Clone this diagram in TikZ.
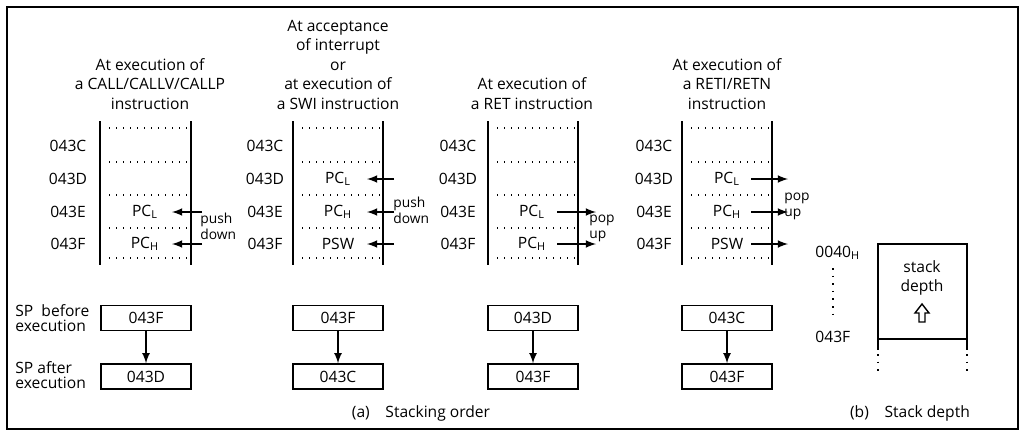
\documentclass[tikz,border=0pt]{standalone}
\usepackage{fontspec}
\setmainfont{Open Sans}
\usetikzlibrary{positioning,calc}
\tikzset{standard edge/.style={line width=0.75pt,-latex},
 stack wall/.style={line width=0.9pt},
 cell sep/.style={line width=0.7pt,dash pattern=on 0.7pt off 2.8pt},
 small note/.style={font=\fontsize{6.9}{8}\selectfont,align=left,inner sep=0pt,anchor=west}}

\begin{document}
\begin{tikzpicture}[x=0.5pt,y=-0.5pt,font=\fontsize{7.8}{9.75}\selectfont,
 spbox/.style={draw,line width=0.8pt,minimum width=45pt,minimum height=12.5pt,inner sep=0pt},
 head/.style={align=center,anchor=south,inner sep=0pt},
 sp label/.style={align=left,anchor=west,inner sep=0pt,font=\fontsize{7.8}{7.6}\selectfont}]
\useasboundingbox (0,0) rectangle (1028,435);
\draw[line width=0.6pt] (7,7) rectangle (1018,429);

% the four stacks
\foreach \l/\r in {100/191,293/383,488/578,682/772}{
 \draw[stack wall] (\l,121) -- (\l,265);
 \draw[stack wall] (\r,121) -- (\r,265);
 \foreach \y in {128,162,195,228,258}
  \draw[cell sep] (\l+9,\y) -- (\r-3,\y);
}
\foreach \x/\n in {68/1,265/2,458/3,654/4}{
 \node (ad\n C) at (\x,146) {043C};
 \node (ad\n D) at (\x,179) {043D};
 \node (ad\n E) at (\x,212) {043E};
 \node (ad\n F) at (\x,244) {043F};
}

\node[head] (h1) at (150,110) {At execution of\\a CALL/CALLV/CALLP\\instruction};
\node[head] (h2) at (338,110) {At acceptance\\of interrupt\\or\\at execution of\\a SWI instruction};
\node[head] (h3) at (532,110) {At execution of\\a RET instruction};
\node[head] (h4) at (727,110) {At execution of\\a RETI/RETN\\instruction};

% contents
\node (c1E) at (145,212) {PC\textsubscript{L}};
\node (c1F) at (145,244) {PC\textsubscript{H}};
\node (c2D) at (338,179) {PC\textsubscript{L}};
\node (c2E) at (338,212) {PC\textsubscript{H}};
\node (c2F) at (338,244) {PSW};
\node (c3E) at (532,212) {PC\textsubscript{L}};
\node (c3F) at (532,244) {PC\textsubscript{H}};
\node (c4D) at (727,179) {PC\textsubscript{L}};
\node (c4E) at (727,212) {PC\textsubscript{H}};
\node (c4F) at (727,244) {PSW};

% push down / pop up
\coordinate (in1) at (202,0); \coordinate (tip1) at (172,0);
\coordinate (in2) at (394,0); \coordinate (tip2) at (367,0);
\coordinate (out3) at (557,0); \coordinate (tip3) at (596,0);
\coordinate (out4) at (751,0); \coordinate (tip4) at (788,0);
\foreach \c in {c1E,c1F}
 \draw[standard edge] (in1 |- \c) -- (tip1 |- \c);
\foreach \c in {c2D,c2E,c2F}
 \draw[standard edge] (in2 |- \c) -- (tip2 |- \c);
\foreach \c in {c3E,c3F}
 \draw[standard edge] (out3 |- \c) -- (tip3 |- \c);
\foreach \c in {c4D,c4E,c4F}
 \draw[standard edge] (out4 |- \c) -- (tip4 |- \c);
\node[small note] (n1) at (200,226) {push\\down};
\node[small note] (n2) at (393,210) {push\\down};
\node[small note] (n3) at (589,228) {pop\\up};
\node[small note] (n4) at (784,206) {pop\\up};

% stack pointer before and after
\node[spbox] (b1) at (146,318) {043F};
\node[spbox] (b2) at (338,318) {043F};
\node[spbox] (b3) at (533,318) {043D};
\node[spbox] (b4) at (727,318) {043C};
\node[spbox,below=16pt of b1] (a1) {043D};
\node[spbox,below=16pt of b2] (a2) {043C};
\node[spbox,below=16pt of b3] (a3) {043F};
\node[spbox,below=16pt of b4] (a4) {043F};
\foreach \i in {1,...,4}
 \draw[standard edge] (b\i) -- (a\i);
\node[sp label] (spb) at (15,318) {SP\ \ before\\execution};
\node[sp label] (spa) at (15,375) {SP after\\execution};
\node (capa) at (421,413) {(a)\quad Stacking order};

% stack depth
\node[anchor=west,inner sep=0pt] (top) at (815,253) {0040\textsubscript{H}};
\node[anchor=west,inner sep=0pt] (bot) at (815,337) {043F};
\draw[cell sep,dash pattern=on 0.8pt off 3pt] (833,268) -- (833,320);
\draw[line width=0.8pt] (878,339) -- (878,244) -- (967,244) -- (967,339) -- cycle;
\draw[line width=0.8pt] (878,339) -- (878,350) (967,339) -- (967,350);
\draw[cell sep,dash pattern=on 0.8pt off 3pt] (878,354) -- (878,374) (967,354) -- (967,374);
\node[align=center] (sd) at (922,278) {stack\\depth};
\draw[line width=0.7pt] (919,322) -- (919,313) -- (915,313) -- (922,304) -- (929,313) -- (925,313) -- (925,322) -- cycle;
\node (capb) at (910,413) {(b)\quad Stack depth};
\end{tikzpicture}
\end{document}
